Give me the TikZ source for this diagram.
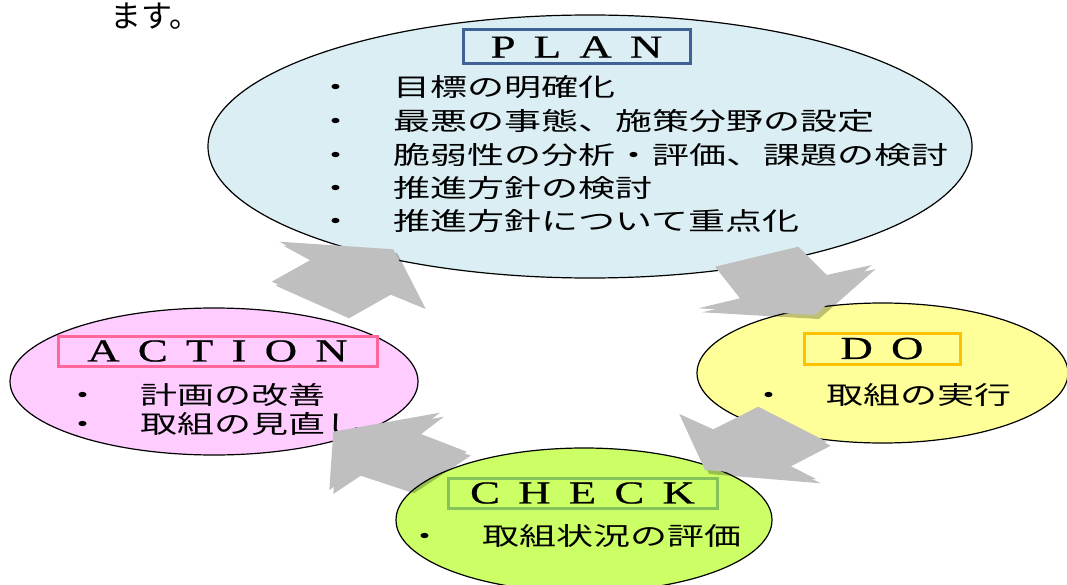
\documentclass[tikz,border=0pt]{standalone}
\usepackage{fontspec}
\usetikzlibrary{shapes.geometric,shadows}

\newfontfamily\jpfont[FakeStretch=1.48]{Noto Sans CJK JP}
\newfontfamily\jptext{Noto Sans CJK JP}
\newfontfamily\titlefont[FakeStretch=1.4,FakeBold=0.6,LetterSpace=57]{Liberation Serif}

\definecolor{planFill}{HTML}{DAEEF3}
\definecolor{planLine}{HTML}{3F6296}
\definecolor{actFill}{HTML}{FFCCFF}
\definecolor{actLine}{HTML}{FF6699}
\definecolor{doFill}{HTML}{FFFF99}
\definecolor{doLine}{HTML}{FFC000}
\definecolor{chkFill}{HTML}{CCFF66}
\definecolor{chkLine}{HTML}{85C35A}
\definecolor{arrowGray}{HTML}{BFBFBF}

\newcommand{\itm}[1]{\makebox[76pt][l]{・}#1}

\begin{document}
\begin{tikzpicture}[x=1pt,y=-1pt,
    phase/.style={ellipse,draw=black,line width=1.2pt,inner sep=0pt},
    phaseTitle/.style={rectangle,line width=3pt,inner sep=0pt,font=\titlefont\fontsize{32}{32}\selectfont},
    item/.style={anchor=west,inner sep=0pt,font=\jpfont\fontsize{25}{25}\selectfont},
    blockArrow/.style={fill=arrowGray,drop shadow={shadow xshift=4pt,shadow yshift=-4pt,opacity=0.25,fill=black}},
]
	\useasboundingbox (0,0) rectangle (1067,585);

	\node[anchor=base west,inner sep=0pt,font=\jptext\fontsize{31}{31}\selectfont](lead) at(110,28){ます。};

	% the four phases
	\node[phase,fill=planFill,minimum width=764pt,minimum height=263pt](plan) at(590,146.5){};
	\node[phase,fill=actFill,minimum width=408pt,minimum height=147pt](action) at(214,381.5){};
	\node[phase,fill=doFill,minimum width=371pt,minimum height=140pt](doit) at(882.5,373){};
	\node[phase,fill=chkFill,minimum width=376pt,minimum height=144pt](check) at(584,520){};

	\node[phaseTitle,draw=planLine,minimum width=227pt,minimum height=34pt](planTitle) at(576.5,47){PLAN};
	\node[phaseTitle,draw=actLine,minimum width=319pt,minimum height=30pt](actionTitle) at(217.5,351){ACTION};
	\node[phaseTitle,draw=doLine,minimum width=156pt,minimum height=31pt](doTitle) at(882,348.5){DO};
	\node[phaseTitle,draw=chkLine,minimum width=269pt,minimum height=30pt](checkTitle) at(582.5,493){CHECK};

	\node[item](p1) at(317.5,87){\itm{目標の明確化}};
	\node[item](p2) at(317.5,121){\itm{最悪の事態、施策分野の設定}};
	\node[item](p3) at(317.5,155){\itm{脆弱性の分析・評価、課題の検討}};
	\node[item](p4) at(317.5,188){\itm{推進方針の検討}};
	\node[item](p5) at(317.5,221){\itm{推進方針について重点化}};

	\node[item](a1) at(64.5,395){\itm{計画の改善}};
	\node[item](a2) at(64.5,424){\itm{取組の見直し}};
	\node[item](d1) at(750.5,395){\itm{取組の実行}};
	\node[item](c1) at(406.5,536){\itm{取組状況の評価}};

	% block arrows round the cycle
	\fill[blockArrow](279.3,241.7)--(393.3,249.3)--(421.7,305)--(386.7,290.7)--(345,314.3)--(271.7,281.7)--(311.7,259.3)--cycle;
	\fill[blockArrow](715,266.7)--(798.3,246.7)--(826.7,275)--(871.7,265)--(815,315)--(698.3,308.3)--(740,298.3)--cycle;
	\fill[blockArrow](679.3,414)--(713.3,429.3)--(758.3,406.7)--(826.7,441.7)--(785,463.3)--(816.7,479.3)--(705,470)--cycle;
	\fill[blockArrow](333.3,431.7)--(440,412.7)--(415,431.7)--(466.7,451.7)--(410,489.3)--(356.7,471.7)--(329.3,490)--cycle;

\end{tikzpicture}
\end{document}
